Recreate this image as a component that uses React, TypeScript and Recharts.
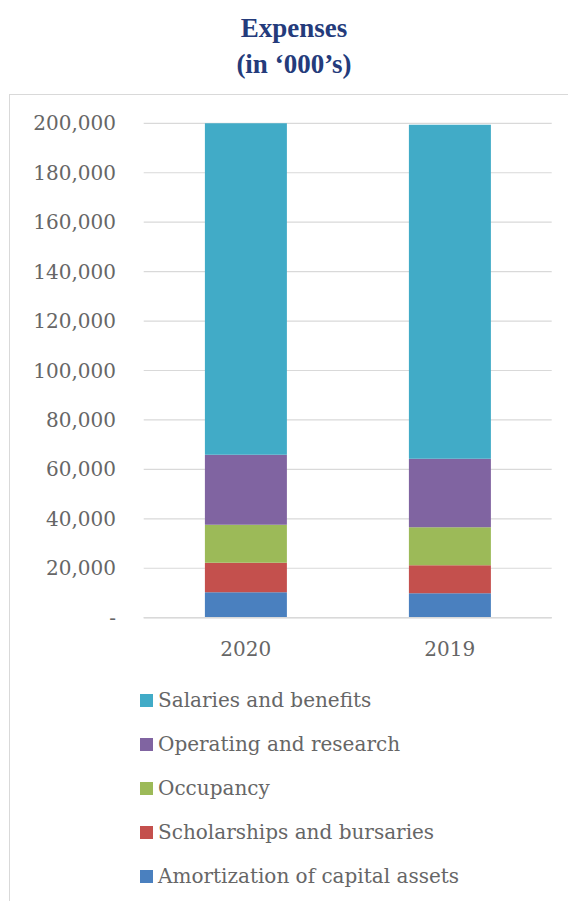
import { BarChart, Bar, XAxis, YAxis, CartesianGrid, Legend } from 'recharts';

// values in thousands
const years = ['2020', '2019'];
const amortization = [10270, 9870];
const scholarships = [11975, 11320];
const occupancy = [15370, 15370];
const operating = [28310, 27745];
const salaries = [134075, 135085];
const yTicks = [0, 20000, 40000, 60000, 80000, 100000, 120000, 140000, 160000, 180000, 200000];

const series = [
  { key: 'amortization', name: 'Amortization of capital assets', color: '#4A80BF' },
  { key: 'scholarships', name: 'Scholarships and bursaries', color: '#C4504D' },
  { key: 'occupancy', name: 'Occupancy', color: '#9CBA58' },
  { key: 'operating', name: 'Operating and research', color: '#8064A1' },
  { key: 'salaries', name: 'Salaries and benefits', color: '#41ABC7' },
];

const data = years.map((year, i) => ({
  year,
  amortization: amortization[i],
  scholarships: scholarships[i],
  occupancy: occupancy[i],
  operating: operating[i],
  salaries: salaries[i],
}));

const FONT = '"DejaVu Serif", serif';
const TEXT = '#666666';
const GRID = '#d9d9d9';

function fmt(v: number) {
  return v === 0 ? '-' : v.toLocaleString('en-US');
}

/* legend listed top-down, reverse of stacking */
function LegendList() {
  return (
    <div style={{ height: 220 }}>
      {[...series].reverse().map((s) => (
        <div key={s.key} style={{ height: 44, display: 'flex', alignItems: 'center' }}>
          <span style={{ width: 13, height: 13, background: s.color, marginRight: 5 }} />
          <span style={{ fontFamily: FONT, fontSize: 20, color: TEXT }}>{s.name}</span>
        </div>
      ))}
    </div>
  );
}

export default function App() {
  return (
    <div style={{ position: 'absolute', left: 0, top: 0, width: 568, height: 901, background: '#fff', overflow: 'hidden' }}>
      <div
        style={{
          position: 'absolute', left: 10, top: 10, width: 568, textAlign: 'center',
          fontFamily: '"Liberation Serif", serif', fontWeight: 'bold', fontSize: 27,
          lineHeight: '36px', color: '#243B7B',
        }}
      >
        Expenses<br />(in ‘000’s)
      </div>
      <div style={{ position: 'absolute', left: 9, top: 94, width: 600, height: 900, border: `1.5px solid ${GRID}` }} />
      <div style={{ position: 'absolute', left: 0, top: 0 }}>
        <BarChart
          width={568}
          height={901}
          data={data}
          margin={{ top: 123.3, right: 16.3, left: 0, bottom: 33.3 }}
          barCategoryGap="30%"
        >
          <CartesianGrid vertical={false} stroke={GRID} strokeWidth={1.2} />
          <XAxis
            dataKey="year"
            axisLine={{ stroke: GRID, strokeWidth: 1.5 }}
            tickLine={false}
            tickMargin={18}
            tick={{ fontFamily: FONT, fontSize: 20, fill: TEXT }}
          />
          <YAxis
            width={143.7}
            domain={[0, 200000]}
            ticks={yTicks}
            interval={0}
            axisLine={false}
            tickLine={false}
            tickMargin={21.7}
            tickFormatter={fmt}
            tick={{ fontFamily: FONT, fontSize: 20, fill: TEXT }}
          />
          {series.map((s) => (
            <Bar key={s.key} dataKey={s.key} name={s.name} stackId="a" fill={s.color} isAnimationActive={false} />
          ))}
          <Legend
            layout="vertical"
            verticalAlign="bottom"
            align="center"
            content={<LegendList />}
            wrapperStyle={{ top: 678, left: 140, bottom: 'auto', width: 420 }}
          />
        </BarChart>
      </div>
    </div>
  );
}
